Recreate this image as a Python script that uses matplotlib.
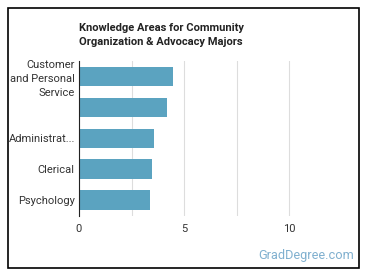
#!/usr/bin/env python3
"""Knowledge areas bar chart (GradDegree style)."""

import matplotlib.pyplot as plt
from matplotlib.patches import Rectangle

plt.rcParams['font.family'] = ['Roboto', 'DejaVu Sans']

# Data
categories = ['Customer\nand Personal\nService', '', 'Administrat...', 'Clerical', 'Psychology']
values = [4.49, 4.2, 3.59, 3.49, 3.4]
xticks = [0, 5, 10]

BAR_COLOR = '#5ba3c0'
GRID_COLOR = '#dddddd'
TEXT_COLOR = '#333333'

fig = plt.figure(figsize=(3.7, 2.78), dpi=100)
ax = fig.add_axes([79 / 370, 1 - 215.5 / 278, (331 - 79) / 370, (215.5 - 61) / 278])

ypos = list(range(len(categories)))
ax.barh(ypos, values, height=0.63, color=BAR_COLOR, zorder=3)
ax.set_yticks(ypos)
ax.set_yticklabels(categories, fontsize=8, color=TEXT_COLOR, linespacing=1.5)
ax.set_ylim(len(categories) - 0.5, -0.5)
ax.set_xlim(0, 12)
ax.set_xticks([0, 2.5, 5, 7.5, 10])
ax.set_xticklabels(['0', '', '5', '', '10'], fontsize=8, color=TEXT_COLOR)
ax.grid(axis='x', color=GRID_COLOR, linewidth=0.8, zorder=0)
ax.tick_params(axis='both', length=0, pad=6)
ax.tick_params(axis='y', pad=3)
for side in ['top', 'right', 'bottom']:
	ax.spines[side].set_visible(False)
ax.spines['left'].set_color('#222222')
ax.spines['left'].set_linewidth(0.8)
ax.spines['left'].set_zorder(4)

# Title
fig.text(79 / 370, 1 - 23 / 278, 'Knowledge Areas for Community\nOrganization & Advocacy Majors',
	fontsize=8, fontweight='bold', color='#222222', ha='left', va='top', linespacing=1.55)

# Watermark
fig.text(354 / 370, 1 - 255 / 278, 'GradDegree.com', fontsize=9.2, color='#80b0cf',
	ha='right', va='center')

# Border
fig.patches.append(Rectangle((7.5 / 370, 1 - 267.5 / 278), (359 - 7.5) / 370, (267.5 - 7.5) / 278,
	transform=fig.transFigure, fill=False, edgecolor='black', linewidth=1.2))

plt.savefig('out.png', dpi=100)
plt.close()
